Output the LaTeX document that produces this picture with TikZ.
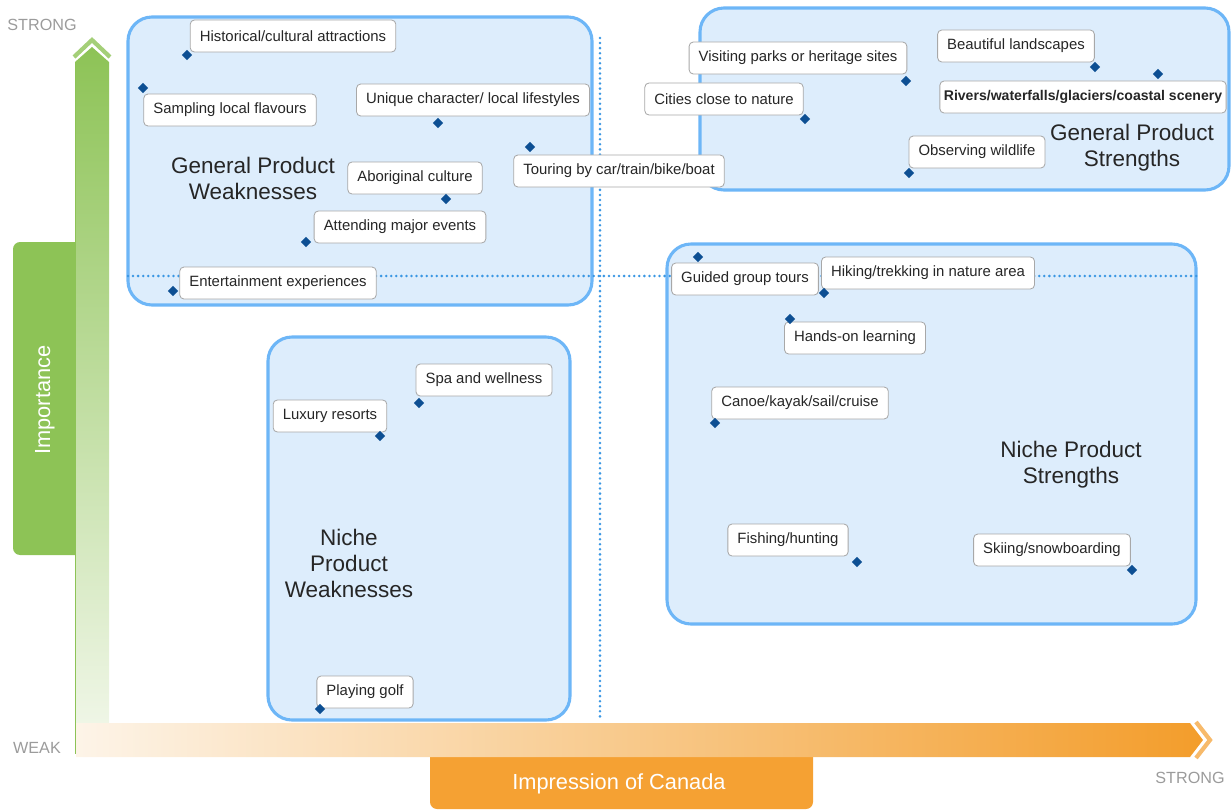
\documentclass[tikz,border=0pt]{standalone}
\usepackage{fontspec}
\setmainfont{Liberation Sans}
\usetikzlibrary{shapes.geometric,fit}
\definecolor{quadFill}    {HTML}{DDEDFC}
\definecolor{quadLine}    {HTML}{6DB6F7}
\definecolor{dotBlue}     {HTML}{3A97E3}
\definecolor{ptBlue}      {HTML}{0D4F93}
\definecolor{boxGray}     {HTML}{A8A8A8}
\definecolor{txtDark}     {HTML}{262626}
\definecolor{axisGreen}   {HTML}{8DC356}
\definecolor{axisGreenLt} {HTML}{F3F8EC}
\definecolor{axisOrange}  {HTML}{F39D2B}
\definecolor{axisOrangeLt}{HTML}{FDF4E8}
\definecolor{tagOrange}   {HTML}{F5A133}
\definecolor{endGray}     {HTML}{9B9B9B}
\tikzset{
  quad/.style={rectangle,rounded corners=0.6cm,draw=quadLine,fill=quadFill,line width=2.2pt,inner sep=0pt},
  quadtitle/.style={font=\fontsize{16}{18.5}\selectfont,text=txtDark,align=center},
  factor/.style={rectangle,rounded corners=3pt,draw=boxGray,fill=white,line width=0.6pt,text=txtDark,
    font=\fontsize{10.6}{12}\selectfont,minimum height=0.8cm,inner xsep=0.24cm},
  ptmark/.style={diamond,fill=ptBlue,inner sep=0pt,minimum width=0.26cm,minimum height=0.26cm},
  guide/.style={draw=dotBlue,line width=2pt,line cap=round,dash pattern=on 0pt off 3.6pt},
  endlabel/.style={text=endGray,font=\fontsize{11.5}{13}\selectfont},
  axistag/.style={text=white,font=\fontsize{15.5}{18}\selectfont},
}

\begin{document}
\begin{tikzpicture}[x=0.025cm,y=-0.025cm]

\useasboundingbox (0,0) rectangle (1232,810);

% axes
\node[fill=axisGreen,rounded corners=5pt,inner sep=0pt,fit={(13,242) (90,555)}] (imptag) {};
\node[fill=tagOrange,rounded corners=5pt,inner sep=0pt,fit={(430,740) (813,809)}] (cantag) {};

\path[top color=axisGreen,bottom color=axisGreenLt] (75,752) -- (75,62) -- (92,47) -- (109,62) -- (109,752) -- cycle;
\draw[axisGreen!80,line width=3pt] (74,57) -- (92,40) -- (110,57);
\draw[axisGreen,line width=1pt] (75.5,62) -- (75.5,754);

\path[left color=axisOrangeLt,right color=axisOrange] (76,723) -- (1190,723) -- (1203,740) -- (1190,757) -- (76,757) -- cycle;
\draw[axisOrange!70,line width=3pt] (1196,722) -- (1210,740) -- (1196,758);

\node[axistag,rotate=90] (imptext) at (45,400) {Importance};
\node[axistag] (cantext) at (619,784) {Impression of Canada};

\node[endlabel] (strongy) at (42,25) {STRONG};
\node[endlabel] (weak) at (37,748) {WEAK};
\node[endlabel] (strongx) at (1190,778) {STRONG};

% quadrants
\node[quad,fit={(128,17) (592,305)}] (gpw) {};
\node[quad,fit={(700,8) (1229,190)}] (gps) {};
\node[quad,fit={(268,337) (570,720)}] (npw) {};
\node[quad,fit={(667,244) (1196,624)}] (nps) {};

\draw[guide] (128,276) -- (1197,276);
\draw[guide] (600,38) -- (600,720);

\node[quadtitle] (gpwtitle) at (253,178) {General Product\\Weaknesses};
\node[quadtitle] (gpstitle) at (1132,148) {General Product\\Strengths};
\node[quadtitle] (npwtitle) at (349,563) {Niche\\Product\\Weaknesses};
\node[quadtitle] (npstitle) at (1071,465) {Niche Product\\Strengths};

% general product weaknesses
\node[factor] (histattr) at (293,36) {Historical/cultural attractions};
\node[factor] (sampling) at (230,110) {Sampling local flavours};
\node[factor] (unique) at (473,100) {Unique character/ local lifestyles};
\node[factor] (aboriginal) at (415,178) {Aboriginal culture};
\node[factor] (touring) at (619,171) {Touring by car/train/bike/boat};
\node[factor] (events) at (400,227) {Attending major events};
\node[factor] (entertain) at (278,283) {Entertainment experiences};

\node[ptmark] (histpt) at (187,55) {};
\node[ptmark] (samplingpt) at (143,88) {};
\node[ptmark] (uniquept) at (438,123) {};
\node[ptmark] (aboriginalpt) at (446,199) {};
\node[ptmark] (touringpt) at (530,147) {};
\node[ptmark] (eventspt) at (306,242) {};
\node[ptmark] (entertainpt) at (173,291) {};

% general product strengths
\node[factor] (parks) at (798,58) {Visiting parks or heritage sites};
\node[factor] (landscapes) at (1016,46) {Beautiful landscapes};
\node[factor] (cities) at (724,99) {Cities close to nature};
\node[factor,font=\fontsize{10}{12}\selectfont\bfseries,inner xsep=0.1cm] (rivers) at (1083,97) {Rivers/waterfalls/glaciers/coastal scenery};
\node[factor] (wildlife) at (977,152) {Observing wildlife};

\node[ptmark] (parkspt) at (906,81) {};
\node[ptmark] (landscapespt) at (1095,67) {};
\node[ptmark] (citiespt) at (805,119) {};
\node[ptmark] (riverspt) at (1158,74) {};
\node[ptmark] (wildlifept) at (909,173) {};

% niche product strengths
\node[factor] (guided) at (745,279) {Guided group tours};
\node[factor] (hiking) at (928,273) {Hiking/trekking in nature area};
\node[factor] (handson) at (855,338) {Hands-on learning};
\node[factor] (canoe) at (800,403) {Canoe/kayak/sail/cruise};
\node[factor] (fishing) at (788,540) {Fishing/hunting};
\node[factor] (skiing) at (1052,550) {Skiing/snowboarding};

\node[ptmark] (guidedpt) at (698,257) {};
\node[ptmark] (hikingpt) at (824,293) {};
\node[ptmark] (handsonpt) at (790,319) {};
\node[ptmark] (canoept) at (715,423) {};
\node[ptmark] (fishingpt) at (857,562) {};
\node[ptmark] (skiingpt) at (1132,570) {};

% niche product weaknesses
\node[factor] (luxury) at (330,416) {Luxury resorts};
\node[factor] (spa) at (484,380) {Spa and wellness};
\node[factor] (golf) at (365,692) {Playing golf};

\node[ptmark] (luxurypt) at (380,436) {};
\node[ptmark] (spapt) at (419,403) {};
\node[ptmark] (golfpt) at (320,709) {};

\end{tikzpicture}
\end{document}
